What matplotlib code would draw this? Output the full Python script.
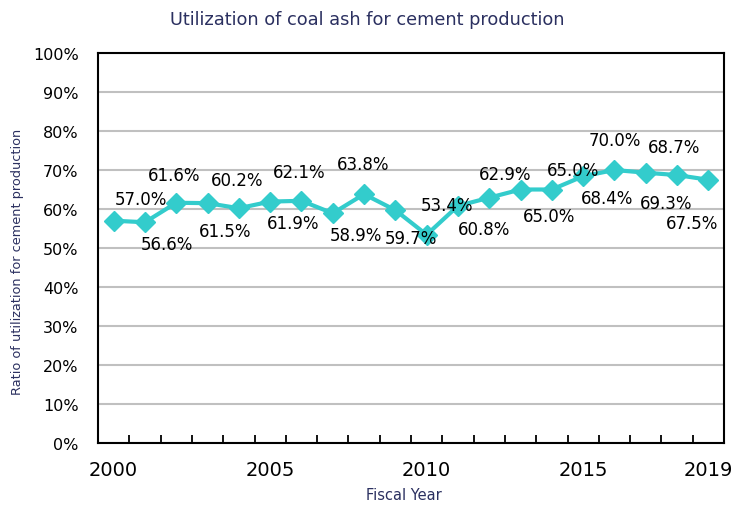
import matplotlib.pyplot as plt

# data
years = list(range(2000, 2020))
ratio = [57.0, 56.6, 61.6, 61.5, 60.2, 61.9, 62.1, 58.9, 63.8, 59.7,
         53.4, 60.8, 62.9, 65.0, 65.0, 68.4, 70.0, 69.3, 68.7, 67.5]
year_labels = ['2000', '2005', '2010', '2015', '2019']
label_years = [2000, 2005, 2010, 2015, 2019]

# where each data label sits relative to its point (pixels, x right / y up)
label_offsets = [(27, 22), (22, -22), (-2, 28), (18, -28), (-2, 28),
                 (23, -21), (-2, 29), (23, -22), (-1, 30), (16, -28),
                 (20, 30), (26, -23), (16, 24), (29, -26), (21, 20),
                 (24, -22), (0, 30), (20, -30), (-3, 28), (-16, -43)]

navy = '#2b3060'
teal = '#33cccc'

fig = plt.figure(figsize=(7.35, 5.06), dpi=100)
ax = fig.add_axes([98 / 735, 62 / 506, 626 / 735, 390 / 506])

idx = list(range(len(years)))
ax.plot(idx, ratio, color=teal, lw=3, marker='D', ms=10, zorder=3)

for i, v in enumerate(ratio):
    dx, dy = label_offsets[i]
    ax.annotate(f'{v:.1f}%', (i, v), xytext=(dx, dy), textcoords='offset pixels',
                ha='center', va='center', fontsize=12, color='black', zorder=4)

ax.set_xlim(-0.5, len(years) - 0.5)
ax.set_ylim(0, 100)

ax.set_yticks(range(0, 101, 10))
ax.set_yticklabels([f'{t}%' for t in range(0, 101, 10)], fontsize=11.5)
ax.tick_params(axis='y', length=0, pad=14)
ax.yaxis.grid(True, color='#c0c0c0', lw=1.5)
ax.set_axisbelow(True)

# category ticks between points, labels only on some years
ax.set_xticks([i + 0.5 for i in idx[:-1]])
ax.set_xticklabels([])
ax.tick_params(axis='x', which='major', direction='in', length=6, width=1.3)
ax.set_xticks([years.index(y) for y in label_years], minor=True)
ax.set_xticklabels(year_labels, minor=True, fontsize=14)
ax.tick_params(axis='x', which='minor', length=0, pad=12)

for s in ax.spines.values():
    s.set_linewidth(1.5)

ax.set_xlabel('Fiscal Year', fontsize=10.5, color=navy, va='center')
ax.xaxis.set_label_coords(0.489, -0.131)
ax.set_ylabel('Ratio of utilization for cement production', fontsize=9.3,
              color=navy, va='center')
ax.yaxis.set_label_coords(-0.128, 0.467)
fig.text(0.5, 0.96, 'Utilization of coal ash for cement production',
         ha='center', va='center', fontsize=12.8, color=navy)

plt.savefig('out.png', dpi=100)
